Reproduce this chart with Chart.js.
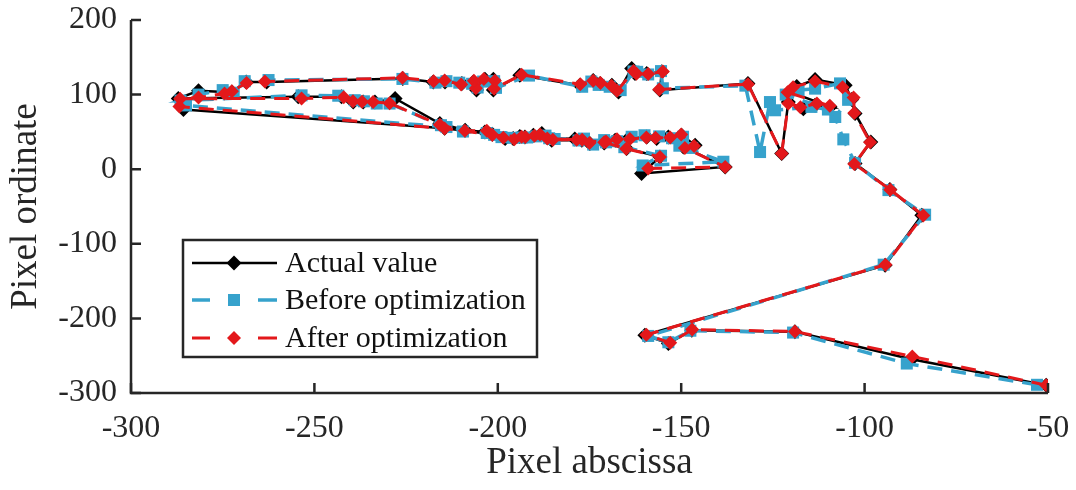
<!DOCTYPE html>
<html>
<head>
<meta charset="utf-8">
<script src="https://cdn.jsdelivr.net/npm/chart.js@4/dist/chart.umd.min.js"></script>
<style>
  html, body { margin: 0; padding: 0; background: #fff; }
  #wrap { width: 1076px; height: 490px; }
</style>
</head>
<body>
<div id="wrap"><canvas id="chart" width="1076" height="490"></canvas></div>
<script>
// ===============================
// DATA
// ===============================
const seriesNames = ["Actual value", "Before optimization", "After optimization"];
const xTicks = [-300, -250, -200, -150, -100, -50];
const yTicks = [-300, -200, -100, 0, 100, 200];

const actualX = [-50.5, -87.2, -119.0, -147.1, -153.5, -159.9, -94.4, -84.4, -93.1, -102.6,
  -98.3, -102.6, -103.5, -105.3, -113.5, -118.5, -120.3, -109.4, -113.5, -116.7,
  -120.8, -122.6, -131.8, -155.8, -155.3, -159.4, -162.6, -163.5, -167.1, -168.9,
  -172.1, -174.0, -177.6, -194.0, -201.2, -201.2, -203.5, -205.8, -206.7, -209.8,
  -214.4, -217.6, -225.9, -263.0, -268.6, -272.5, -274.4, -281.6, -287.1, -254.4,
  -242.6, -239.4, -236.7, -233.5, -228.0, -215.8, -208.9, -203.5, -198.0, -195.8,
  -192.6, -190.3, -188.0, -185.3, -177.1, -174.9, -170.8, -168.0, -164.4, -159.4,
  -156.7, -153.5, -149.9, -146.2, -149.4, -138.0, -160.8, -155.8, -164.9, -171.0,
  -179.0, -186.5, -194.0, -201.5, -214.5, -285.7];
const actualY = [-289.6, -254.8, -218.0, -215.8, -233.6, -222.5, -128.7, -61.7, -27.2, 7.6,
  36.6, 74.7, 93.4, 112.6, 120.2, 111.0, 103.6, 83.5, 85.8, 81.0,
  90.0, 21.0, 114.9, 106.0, 130.5, 128.3, 128.3, 135.0, 103.6, 112.6,
  114.9, 119.0, 112.6, 126.0, 106.0, 120.5, 120.5, 106.0, 117.0, 115.0,
  117.0, 117.0, 121.6, 117.0, 117.0, 103.6, 103.6, 105.0, 94.9, 97.0,
  97.0, 90.0, 90.0, 90.0, 94.8, 61.3, 52.3, 50.0, 41.0, 41.0,
  43.3, 45.6, 47.9, 38.9, 38.9, 34.5, 36.6, 38.9, 41.0, 43.3,
  41.0, 43.3, 45.6, 32.2, 29.9, 3.0, -5.8, 16.5, 27.7, 35.0,
  40.5, 42.0, 44.0, 47.0, 55.0, 80.0];

const beforeX = [-53.0, -88.5, -119.5, -147.5, -153.5, -159.0, -94.8, -83.5, -93.5, -102.6,
  -105.8, -108.0, -104.5, -106.7, -113.5, -118.0, -121.5, -110.0, -114.5, -124.4,
  -125.8, -128.5, -132.5, -155.0, -155.5, -159.0, -162.0, -163.0, -166.5, -169.5,
  -172.5, -174.5, -177.0, -191.5, -200.5, -201.0, -204.0, -205.5, -207.0, -210.5,
  -214.0, -217.0, -226.0, -262.5, -269.0, -272.0, -275.0, -281.6, -286.5, -253.5,
  -243.5, -239.0, -236.5, -233.0, -229.5, -215.5, -209.5, -203.0, -199.0, -196.0,
  -192.0, -189.5, -187.0, -184.5, -176.5, -174.0, -171.0, -167.5, -163.5, -160.0,
  -156.0, -152.5, -149.5, -147.0, -150.5, -138.5, -160.5, -155.5, -165.5, -170.5,
  -178.0, -186.0, -193.5, -201.0, -214.0, -285.0];
const beforeY = [-289.0, -260.5, -219.0, -216.5, -232.0, -223.5, -128.0, -61.0, -28.0, 8.5,
  40.0, 70.0, 93.0, 115.0, 108.0, 106.0, 100.0, 80.0, 83.5, 79.0,
  90.0, 23.0, 112.0, 108.5, 131.5, 127.0, 130.5, 131.0, 106.0, 110.5,
  113.0, 117.5, 110.5, 125.5, 109.0, 118.0, 117.5, 109.5, 114.5, 116.0,
  118.0, 116.0, 121.0, 119.5, 118.0, 102.5, 106.0, 100.0, 92.0, 99.0,
  98.5, 92.5, 91.0, 88.0, 88.0, 59.0, 50.5, 48.5, 43.0, 42.0,
  42.5, 44.0, 45.0, 40.5, 41.0, 33.0, 39.0, 37.5, 43.5, 45.5,
  44.0, 41.5, 43.5, 28.5, 31.5, 10.0, 5.0, 18.0, 29.5, 36.0,
  38.5, 41.5, 42.5, 46.0, 56.5, 85.5];

const afterX = [-50.5, -87.0, -119.0, -147.0, -153.0, -159.5, -94.3, -84.0, -93.0, -102.8,
  -98.5, -102.8, -103.0, -106.0, -113.5, -119.5, -121.0, -109.5, -113.0, -117.5,
  -120.8, -122.6, -131.8, -156.0, -155.0, -159.0, -162.2, -163.0, -167.5, -169.0,
  -172.0, -174.0, -177.5, -193.5, -201.0, -200.8, -203.8, -206.0, -206.5, -210.0,
  -214.5, -217.5, -226.0, -263.5, -268.5, -272.5, -274.5, -281.6, -286.6, -253.5,
  -242.0, -239.5, -237.0, -234.0, -229.5, -215.8, -209.0, -203.0, -198.5, -195.5,
  -192.5, -190.0, -188.5, -185.0, -177.0, -175.0, -170.5, -167.5, -164.0, -159.5,
  -157.0, -153.0, -150.0, -146.5, -149.0, -138.0, -159.0, -155.8, -165.0, -171.0,
  -178.5, -186.5, -193.5, -201.5, -214.5, -286.8];
const afterY = [-289.5, -251.0, -217.5, -215.0, -232.5, -222.0, -128.0, -62.0, -27.5, 7.0,
  36.0, 75.5, 96.0, 110.0, 118.0, 110.0, 103.0, 85.0, 88.0, 83.0,
  88.0, 21.0, 114.0, 107.0, 131.0, 127.5, 128.0, 131.5, 105.0, 112.0,
  115.5, 118.5, 114.0, 126.5, 108.0, 118.5, 121.0, 108.5, 118.5, 113.5,
  119.0, 118.0, 122.5, 117.5, 115.5, 104.5, 101.5, 96.0, 94.5, 94.8,
  96.5, 91.0, 90.5, 90.0, 88.5, 59.5, 51.5, 51.5, 42.0, 40.0,
  43.0, 45.0, 46.5, 39.5, 39.5, 35.0, 37.0, 40.0, 40.5, 42.5,
  42.0, 42.5, 46.5, 31.0, 28.5, 3.0, 1.0, 16.5, 27.5, 36.0,
  39.5, 41.0, 43.5, 46.0, 54.5, 84.0];

// ===============================
// STYLE
// ===============================
const FONT = "'Liberation Serif', 'Times New Roman', serif";
const AXIS = "#262626";
const BLACK = "#000000";
const BLUE = "#36a2cc";
const RED = "#e3181b";

const toPts = (xs, ys) => xs.map((x, i) => ({ x: x, y: ys[i] }));

// ===============================
// AXES + LEGEND PLUGIN
// ===============================
const decor = {
  id: "decor",
  afterDraw(chart) {
    const ctx = chart.ctx;
    const a = chart.chartArea;
    const xs = chart.scales.x, ys = chart.scales.y;
    ctx.save();
    ctx.strokeStyle = AXIS;
    ctx.lineWidth = 2.5;
    ctx.lineCap = "butt";
    ctx.beginPath();
    ctx.moveTo(a.left, a.top);
    ctx.lineTo(a.left, a.bottom);
    ctx.lineTo(a.right, a.bottom);
    ctx.stroke();
    // inward ticks
    ctx.beginPath();
    yTicks.forEach(v => {
      const p = ys.getPixelForValue(v);
      ctx.moveTo(a.left, p);
      ctx.lineTo(a.left + 10, p);
    });
    xTicks.forEach(v => {
      const p = xs.getPixelForValue(v);
      ctx.moveTo(p, a.bottom);
      ctx.lineTo(p, a.bottom - 10);
    });
    ctx.stroke();

    // legend
    const bx = 183, by = 240, bw = 354, bh = 117;
    ctx.fillStyle = "#fff";
    ctx.fillRect(bx, by, bw, bh);
    ctx.strokeStyle = AXIS;
    ctx.lineWidth = 2.5;
    ctx.strokeRect(bx, by, bw, bh);

    const rows = [263, 300, 338];
    const styles = [
      { color: BLACK, dashed: false, marker: "diamond", r: 7.5, lw: 2.5 },
      { color: BLUE, dashed: true, marker: "square", r: 6, lw: 3.5 },
      { color: RED, dashed: true, marker: "diamond", r: 7, lw: 3 }
    ];
    rows.forEach((y, i) => {
      const s = styles[i];
      ctx.strokeStyle = s.color;
      ctx.fillStyle = s.color;
      ctx.lineWidth = s.lw;
      ctx.beginPath();
      if (s.dashed) {
        ctx.moveTo(192, y); ctx.lineTo(210, y);
        ctx.moveTo(258, y); ctx.lineTo(277, y);
      } else {
        ctx.moveTo(192, y); ctx.lineTo(277, y);
      }
      ctx.stroke();
      ctx.beginPath();
      if (s.marker === "diamond") {
        ctx.moveTo(234, y - s.r);
        ctx.lineTo(234 + s.r, y);
        ctx.lineTo(234, y + s.r);
        ctx.lineTo(234 - s.r, y);
        ctx.closePath();
      } else {
        ctx.rect(234 - s.r, y - s.r, 2 * s.r, 2 * s.r);
      }
      ctx.fill();
      ctx.fillStyle = "#111";
      ctx.font = "30px " + FONT;
      ctx.textBaseline = "middle";
      ctx.textAlign = "left";
      ctx.fillText(seriesNames[i], 285, y + 1);
    });
    ctx.restore();
  }
};

// ===============================
// CHART
// ===============================
new Chart(document.getElementById("chart"), {
  type: "scatter",
  data: {
    datasets: [
      {
        label: seriesNames[0],
        data: toPts(actualX, actualY),
        showLine: true,
        borderColor: BLACK,
        backgroundColor: BLACK,
        borderWidth: 2.5,
        pointStyle: "rectRot",
        pointRadius: 7.5,
        pointBorderWidth: 0,
        order: 3
      },
      {
        label: seriesNames[1],
        data: toPts(beforeX, beforeY),
        showLine: true,
        borderColor: BLUE,
        backgroundColor: BLUE,
        borderWidth: 3.5,
        borderDash: [15, 9],
        pointStyle: "rect",
        pointRadius: 8.5,
        pointBorderWidth: 0,
        order: 2
      },
      {
        label: seriesNames[2],
        data: toPts(afterX, afterY),
        showLine: true,
        borderColor: RED,
        backgroundColor: RED,
        borderWidth: 3,
        borderDash: [15, 9],
        pointStyle: "rectRot",
        pointRadius: 7,
        pointBorderWidth: 0,
        order: 1
      }
    ]
  },
  options: {
    responsive: false,
    animation: false,
    devicePixelRatio: 1,
    events: [],
    layout: { padding: { top: 20, right: 28, left: 0, bottom: 0 } },
    plugins: {
      legend: { display: false },
      tooltip: { enabled: false }
    },
    scales: {
      x: {
        type: "linear",
        min: -300,
        max: -50,
        afterFit: s => { s.height = 97; s.paddingLeft = 0; s.paddingRight = 0; },
        afterBuildTicks: s => { s.ticks = xTicks.map(v => ({ value: v })); },
        grid: { display: false, drawTicks: false },
        border: { display: false },
        ticks: {
          padding: 16,
          color: AXIS,
          font: { family: FONT, size: 32 }
        },
        title: {
          display: true,
          text: "Pixel abscissa",
          color: AXIS,
          font: { family: FONT, size: 37 },
          padding: { top: 0, bottom: 5 }
        }
      },
      y: {
        type: "linear",
        min: -300,
        max: 200,
        afterFit: s => { s.width = 131; s.paddingTop = 0; s.paddingBottom = 0; },
        afterBuildTicks: s => { s.ticks = yTicks.map(v => ({ value: v })); },
        grid: { display: false, drawTicks: false },
        border: { display: false },
        ticks: {
          padding: 14,
          color: AXIS,
          font: { family: FONT, size: 32 }
        },
        title: {
          display: true,
          text: "Pixel ordinate",
          color: AXIS,
          font: { family: FONT, size: 37 },
          padding: { top: 4, bottom: 0 }
        }
      }
    }
  },
  plugins: [decor]
});
</script>
</body>
</html>
